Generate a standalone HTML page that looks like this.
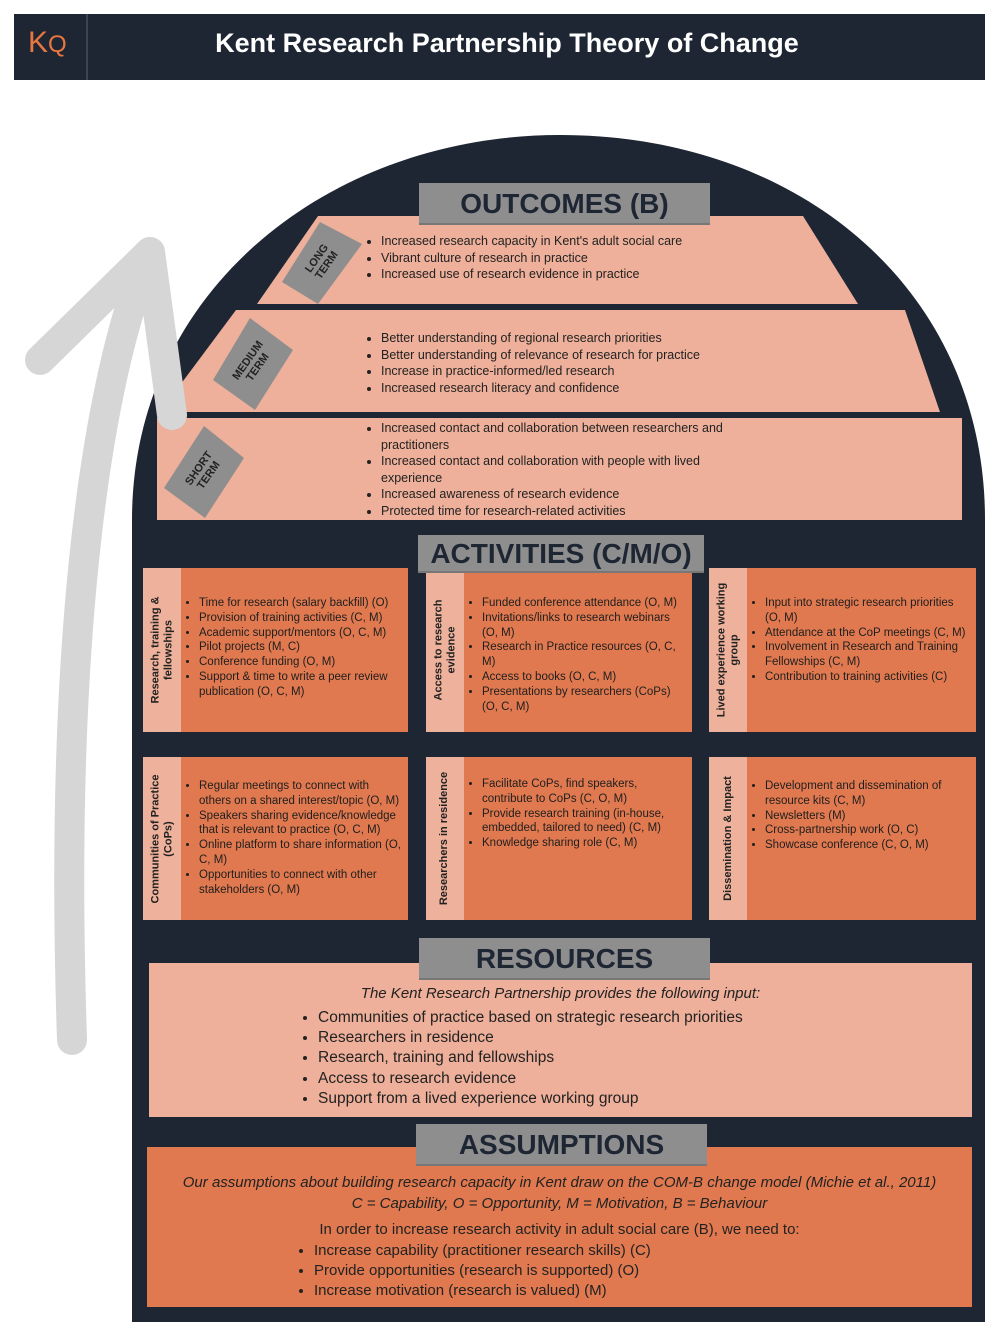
<!DOCTYPE html>
<html><head><meta charset="utf-8"><style>
body{margin:0;width:1000px;height:1337px;background:#fff;position:relative;overflow:hidden;font-family:"Liberation Sans Narrow","Liberation Sans",sans-serif}
.a{position:absolute}
ul{margin:0;padding-left:14px}
li{margin:0}
.lbl{position:absolute;background:#8e8e8e;color:#1e2533;font-family:"Liberation Sans",sans-serif;font-weight:bold;text-align:center;border-bottom:2px solid #777}
.o{font-size:12.5px;color:#222;line-height:16.5px}
.box{position:absolute;background:#e0794f;}
.strip{position:absolute;left:0;top:0;bottom:0;width:38px;background:#eeb19b}
.vt{position:absolute;left:0;width:38px;top:0;bottom:0;display:flex;align-items:center;justify-content:center}
.vt span{transform:rotate(-90deg);white-space:nowrap;font-family:"Liberation Sans",sans-serif;font-weight:bold;font-size:11px;line-height:13px;text-align:center;color:#222}
.bt{position:absolute;left:42px;right:6px;top:28px;font-size:11.5px;line-height:14.8px;color:#1e1e1e}
.bt ul{padding-left:14px}
</style></head><body>
<div class="a" style="left:14px;top:14px;width:971px;height:66px;background:#1e2533"></div>
<div class="a" style="left:86px;top:14px;width:2px;height:66px;background:#3c4352"></div>
<div class="a" style="left:28px;top:26px;font-size:30px;color:#e8773f;font-family:'Liberation Sans',sans-serif">K<span style="font-size:24px">Q</span></div>
<div class="a" style="left:88px;top:28px;width:838px;text-align:center;color:#fff;font-family:'Liberation Sans',sans-serif;font-weight:bold;font-size:27px">Kent Research Partnership Theory of Change</div>
<svg class="a" style="left:0;top:0" width="1000" height="1337">
<path d="M132,1322 L132,520 C132,290 330,135 560,135 C800,135 985,290 985,520 L985,1322 Z" fill="#1e2533"/>
<polygon points="318,216 803,216 858,304 257,304" fill="#eeb09a"/>
<polygon points="236,310 905,310 940,412 160,412" fill="#eeb09a"/>
<rect x="157" y="418" width="805" height="102" fill="#eeb09a"/>
<path d="M150,252 C100,370 58,620 72,1040" stroke="#d6d6d6" stroke-width="30" fill="none" stroke-linecap="round"/>
<path d="M40,360 L150,252 L172,415" stroke="#d6d6d6" stroke-width="30" fill="none" stroke-linecap="round" stroke-linejoin="round"/>
<polygon points="320,222 362,244 318,304 282,282" fill="#8e8e8e"/>
<polygon points="250,318 293,350 255,410 213,380" fill="#8e8e8e"/>
<polygon points="204,426 244,458 205,518 164,488" fill="#8e8e8e"/>
</svg>
<div class="a" style="font-family:'Liberation Sans',sans-serif;font-weight:bold;font-size:11px;line-height:12px;text-align:center;color:#222;width:60px;left:292px;top:250px;transform:rotate(-55deg)">LONG<br>TERM</div>
<div class="a" style="font-family:'Liberation Sans',sans-serif;font-weight:bold;font-size:11px;line-height:12px;text-align:center;color:#222;width:70px;left:218px;top:352px;transform:rotate(-55deg)">MEDIUM<br>TERM</div>
<div class="a" style="font-family:'Liberation Sans',sans-serif;font-weight:bold;font-size:11px;line-height:12px;text-align:center;color:#222;width:60px;left:174px;top:460px;transform:rotate(-55deg)">SHORT<br>TERM</div>
<div class="lbl" style="left:419px;top:183px;width:291px;height:40px;font-size:28px;line-height:42px">OUTCOMES (B)</div>
<div class="a o" style="left:367px;top:233px"><ul><li>Increased research capacity in Kent's adult social care</li><li>Vibrant culture of research in practice</li><li>Increased use of research evidence in practice</li></ul></div>
<div class="a o" style="left:367px;top:330px"><ul><li>Better understanding of regional research priorities</li><li>Better understanding of relevance of research for practice</li><li>Increase in practice-informed/led research</li><li>Increased research literacy and confidence</li></ul></div>
<div class="a o" style="left:367px;top:420px;width:390px"><ul><li>Increased contact and collaboration between researchers and practitioners</li><li>Increased contact and collaboration with people with lived experience</li><li>Increased awareness of research evidence</li><li>Protected time for research-related activities</li></ul></div>
<div class="box" style="left:143px;top:568px;width:265px;height:164px"><div class="strip"></div><div class="vt"><span>Research, training &amp;<br>fellowships</span></div><div class="bt"><ul><li>Time for research (salary backfill) (O)</li><li>Provision of training activities (C, M)</li><li>Academic support/mentors (O, C, M)</li><li>Pilot projects (M, C)</li><li>Conference funding (O, M)</li><li>Support &amp; time to write a peer review publication (O, C, M)</li></ul></div></div>
<div class="box" style="left:426px;top:568px;width:266px;height:164px"><div class="strip"></div><div class="vt"><span>Access to research<br>evidence</span></div><div class="bt"><ul><li>Funded conference attendance (O, M)</li><li>Invitations/links to research webinars (O, M)</li><li>Research in Practice resources (O, C, M)</li><li>Access to books (O, C, M)</li><li>Presentations by researchers (CoPs) (O, C, M)</li></ul></div></div>
<div class="box" style="left:709px;top:568px;width:267px;height:164px"><div class="strip"></div><div class="vt"><span>Lived experience working<br>group</span></div><div class="bt"><ul><li>Input into strategic research priorities (O, M)</li><li>Attendance at the CoP meetings (C, M)</li><li>Involvement in Research and Training Fellowships (C, M)</li><li>Contribution to training activities (C)</li></ul></div></div>
<div class="box" style="left:143px;top:757px;width:265px;height:163px"><div class="strip"></div><div class="vt"><span>Communities of Practice<br>(CoPs)</span></div><div class="bt" style="top:22px"><ul><li>Regular meetings to connect with others on a shared interest/topic (O, M)</li><li>Speakers sharing evidence/knowledge that is relevant to practice (O, C, M)</li><li>Online platform to share information (O, C, M)</li><li>Opportunities to connect with other stakeholders (O, M)</li></ul></div></div>
<div class="box" style="left:426px;top:757px;width:266px;height:163px"><div class="strip"></div><div class="vt"><span>Researchers in residence</span></div><div class="bt" style="top:20px"><ul><li>Facilitate CoPs, find speakers, contribute to CoPs (C, O, M)</li><li>Provide research training (in-house, embedded, tailored to need) (C, M)</li><li>Knowledge sharing role (C, M)</li></ul></div></div>
<div class="box" style="left:709px;top:757px;width:267px;height:163px"><div class="strip"></div><div class="vt"><span>Dissemination &amp; Impact</span></div><div class="bt" style="top:22px"><ul><li>Development and dissemination of resource kits (C, M)</li><li>Newsletters (M)</li><li>Cross-partnership work (O, C)</li><li>Showcase conference (C, O, M)</li></ul></div></div>
<div class="lbl" style="left:418px;top:535px;width:286px;height:36px;font-size:28px;line-height:38px">ACTIVITIES (C/M/O)</div>
<div class="a" style="left:149px;top:963px;width:823px;height:154px;background:#eeb09a"></div>
<div class="a" style="left:149px;top:985px;width:823px;text-align:center;font-style:italic;font-size:15px;color:#222;font-family:'Liberation Sans',sans-serif">The Kent Research Partnership provides the following input:</div>
<div class="a" style="left:304px;top:1008px;font-size:15.5px;line-height:20.2px;color:#222;font-family:'Liberation Sans',sans-serif"><ul><li>Communities of practice based on strategic research priorities</li><li>Researchers in residence</li><li>Research, training and fellowships</li><li>Access to research evidence</li><li>Support from a lived experience working group</li></ul></div>
<div class="lbl" style="left:419px;top:938px;width:291px;height:40px;font-size:28px;line-height:42px">RESOURCES</div>
<div class="a" style="left:147px;top:1147px;width:825px;height:160px;background:#e0794f"></div>
<div class="a" style="left:147px;top:1172px;width:825px;text-align:center;font-style:italic;font-size:15px;line-height:21px;color:#222;font-family:'Liberation Sans',sans-serif">Our assumptions about building research capacity in Kent draw on the COM-B change model (Michie et al., 2011)<br>C = Capability, O = Opportunity, M = Motivation, B = Behaviour</div>
<div class="a" style="left:147px;top:1221px;width:825px;text-align:center;font-size:15px;color:#222;font-family:'Liberation Sans',sans-serif">In order to increase research activity in adult social care (B), we need to:</div>
<div class="a" style="left:300px;top:1241px;font-size:15px;line-height:20px;color:#222;font-family:'Liberation Sans',sans-serif"><ul><li>Increase capability (practitioner research skills) (C)</li><li>Provide opportunities (research is supported) (O)</li><li>Increase motivation (research is valued) (M)</li></ul></div>
<div class="lbl" style="left:416px;top:1124px;width:291px;height:40px;font-size:28px;line-height:42px">ASSUMPTIONS</div>
</body></html>
